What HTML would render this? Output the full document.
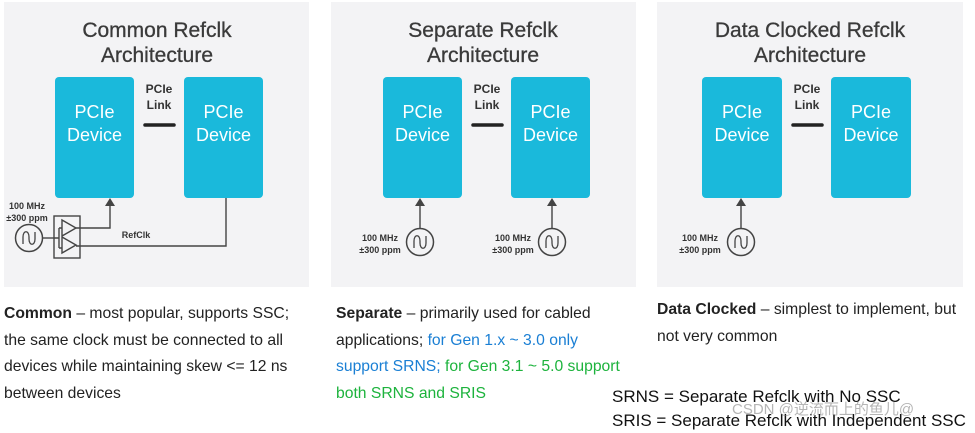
<!DOCTYPE html>
<html><head><meta charset="utf-8"><style>
body{margin:0;background:#fff;width:975px;height:431px;overflow:hidden;position:relative;font-family:"Liberation Sans",sans-serif}
.t{position:absolute;font-family:"Liberation Sans",sans-serif;font-size:15.7px;color:#222;line-height:26.5px;white-space:nowrap}
.b{color:#1a7fd4}.g{color:#1db33d}
</style></head><body>
<svg width="975" height="431" style="position:absolute;left:0;top:0" font-family="Liberation Sans, sans-serif">
<defs>
<g id="osc"><circle r="13.5" fill="#f3f3f5" stroke="#444" stroke-width="1.5"/><path d="M-6,6 L-6,-1 C-6,-8 0,-8 0,-1 L0,1 C0,8 6,8 6,1 L6,-6" fill="none" stroke="#444" stroke-width="1.3"/></g>
</defs>
<g fill="#f3f3f5"><rect x="4" y="2" width="305" height="285"/><rect x="331" y="2" width="305" height="285"/><rect x="657" y="2" width="306" height="285"/></g>
<g fill="#3a3a3a" font-size="21" text-anchor="middle" stroke="#3a3a3a" stroke-width="0.3">
<text x="157" y="37">Common Refclk</text><text x="157" y="62">Architecture</text>
<text x="483" y="37">Separate Refclk</text><text x="483" y="62">Architecture</text>
<text x="810" y="37">Data Clocked Refclk</text><text x="810" y="62">Architecture</text>
</g>
<g fill="#1ab9db">
<rect x="55" y="77" width="79" height="121" rx="4"/><rect x="184" y="77" width="79" height="121" rx="4"/>
<rect x="383" y="77" width="79" height="121" rx="4"/><rect x="511" y="77" width="79" height="121" rx="4"/>
<rect x="702" y="77" width="80" height="121" rx="4"/><rect x="831" y="77" width="80" height="121" rx="4"/>
</g>
<g fill="#fff" font-size="18" text-anchor="middle">
<text x="94.5" y="118">PCIe</text><text x="94.5" y="141">Device</text>
<text x="223.5" y="118">PCIe</text><text x="223.5" y="141">Device</text>
<text x="422.5" y="118">PCIe</text><text x="422.5" y="141">Device</text>
<text x="550.5" y="118">PCIe</text><text x="550.5" y="141">Device</text>
<text x="742" y="118">PCIe</text><text x="742" y="141">Device</text>
<text x="871" y="118">PCIe</text><text x="871" y="141">Device</text>
</g>
<g fill="#333" font-size="12" text-anchor="middle" font-weight="bold">
<text x="159" y="93">PCIe</text><text x="159" y="109">Link</text>
<text x="487" y="93">PCIe</text><text x="487" y="109">Link</text>
<text x="807" y="93">PCIe</text><text x="807" y="109">Link</text>
</g>
<g stroke="#222" stroke-width="3.5" stroke-linecap="round">
<line x1="145" y1="125" x2="174" y2="125"/><line x1="473" y1="125" x2="502" y2="125"/><line x1="793" y1="125" x2="822" y2="125"/>
</g>
<g fill="#333" font-size="9" text-anchor="middle" font-weight="bold">
<text x="27" y="209">100 MHz</text><text x="27" y="221">±300 ppm</text>
<text x="380" y="241">100 MHz</text><text x="380" y="253">±300 ppm</text>
<text x="513" y="241">100 MHz</text><text x="513" y="253">±300 ppm</text>
<text x="700" y="241">100 MHz</text><text x="700" y="253">±300 ppm</text>
<text x="136" y="238">RefClk</text>
</g>
<use href="#osc" x="29" y="238"/>
<g stroke="#444" stroke-width="1.4" fill="none">
<line x1="42.5" y1="238" x2="54" y2="238"/>
<rect x="54" y="216" width="26" height="42"/>
<path d="M62,220 L76,228 L62,236 Z M62,237 L76,245 L62,253 Z"/>
<path d="M54,238 L59,238 M59,228 L59,248 M59,228 L62,228 M59,248 L62,248"/>
<path d="M76,228 L110,228 L110,205"/>
<path d="M76,246 L226,246 L226,198"/>
<line x1="420" y1="228" x2="420" y2="205"/><line x1="552" y1="228" x2="552" y2="205"/><line x1="741" y1="228" x2="741" y2="205"/>
</g>
<g fill="#444">
<path d="M105,206 L115,206 L110,198 Z"/>
<path d="M415,206 L425,206 L420,198 Z"/><path d="M547,206 L557,206 L552,198 Z"/><path d="M736,206 L746,206 L741,198 Z"/>
</g>
<use href="#osc" x="420" y="242"/><use href="#osc" x="552" y="242"/><use href="#osc" x="741" y="242"/>
</svg>
<div class="t" style="left:4px;top:301px"><b>Common</b> – most popular, supports SSC;<br>the same clock must be connected to all<br>devices while maintaining skew &lt;= 12 ns<br>between devices</div>
<div class="t" style="left:336px;top:301px"><b>Separate</b> – primarily used for cabled<br>applications; <span class="b">for Gen 1.x ~ 3.0 only</span><br><span class="b">support SRNS;</span> <span class="g">for Gen 3.1 ~ 5.0 support</span><br><span class="g">both SRNS and SRIS</span></div>
<div class="t" style="left:657px;top:297px"><b>Data Clocked</b> – simplest to implement, but<br>not very common</div>
<div class="t" style="left:612px;top:385px;font-size:17px;line-height:24px;color:#111">SRNS = Separate Refclk with No SSC<br>SRIS = Separate Refclk with Independent SSC</div>
<div class="t" style="left:732px;top:397px;font-size:15px;color:rgba(120,120,120,0.55);font-family:'Liberation Sans','Noto Sans CJK SC',sans-serif">CSDN @逆流而上的鱼儿@</div>
</body></html>
